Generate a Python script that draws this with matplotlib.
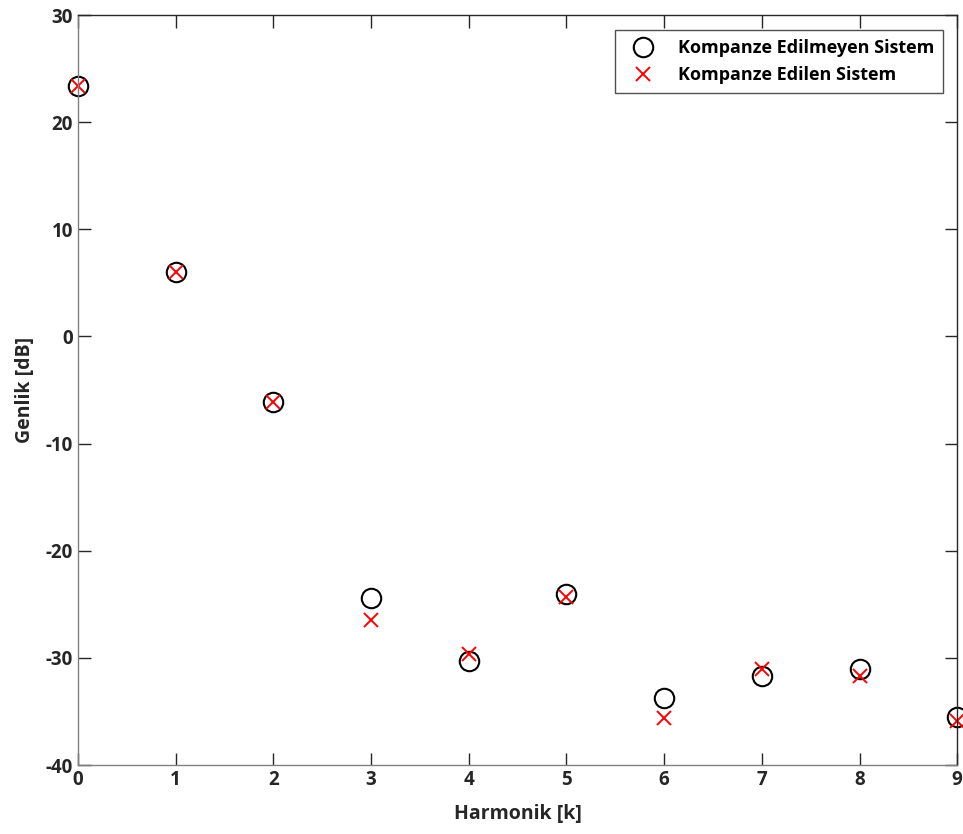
import matplotlib
matplotlib.use("Agg")
import matplotlib.pyplot as plt

plt.rcParams['font.family'] = ['Open Sans', 'DejaVu Sans']
plt.rcParams['font.weight'] = 'bold'
plt.rcParams['axes.unicode_minus'] = False

# Harmonik numaraları ve genlikler (dB)
harmonik = [0, 1, 2, 3, 4, 5, 6, 7, 8, 9]
kompanze_edilmeyen = [23.4, 6.0, -6.1, -24.4, -30.3, -24.0, -33.7, -31.7, -31.0, -35.5]
kompanze_edilen = [23.4, 6.0, -6.1, -26.5, -29.6, -24.3, -35.6, -31.0, -31.7, -35.9]

x_ticks = list(range(0, 10))
y_ticks = list(range(-40, 31, 10))

fig = plt.figure(figsize=(9.63, 8.34), dpi=100)
ax = fig.add_axes([0.081, 0.0827, 0.913, 0.8993])

ax.plot(harmonik, kompanze_edilmeyen, 'o', markerfacecolor='none', markeredgecolor='black',
        markersize=14, markeredgewidth=1.5, label='Kompanze Edilmeyen Sistem', clip_on=False)
ax.plot(harmonik, kompanze_edilen, 'x', color='red', markersize=10, markeredgewidth=1.4,
        label='Kompanze Edilen Sistem', clip_on=False)

ax.set_xlim(0, 9)
ax.set_ylim(-40, 30)
ax.set_xticks(x_ticks)
ax.set_yticks(y_ticks)

ax.tick_params(direction='in', top=True, right=True, length=9, width=1, colors='#262626',
               labelsize=13.5)
for s in ax.spines.values():
    s.set_color('#262626')
    s.set_linewidth(1)
ax.spines['left'].set_color('#808080')
ax.spines['bottom'].set_color('#808080')

ax.set_xlabel('Harmonik [k]', fontsize=14, fontweight='bold', color='#262626', labelpad=10)
ax.set_ylabel('Genlik [dB]', fontsize=14, fontweight='bold', color='#262626', labelpad=8)

leg = ax.legend(loc='upper right', fontsize=13, frameon=True, fancybox=False,
                edgecolor='#262626', borderpad=0.5, labelspacing=0.5,
                handlelength=2.2, handletextpad=0.8, borderaxespad=0,
                bbox_to_anchor=(0.984, 0.98))
leg.get_frame().set_linewidth(1)

fig.savefig('out.png', dpi=100)
